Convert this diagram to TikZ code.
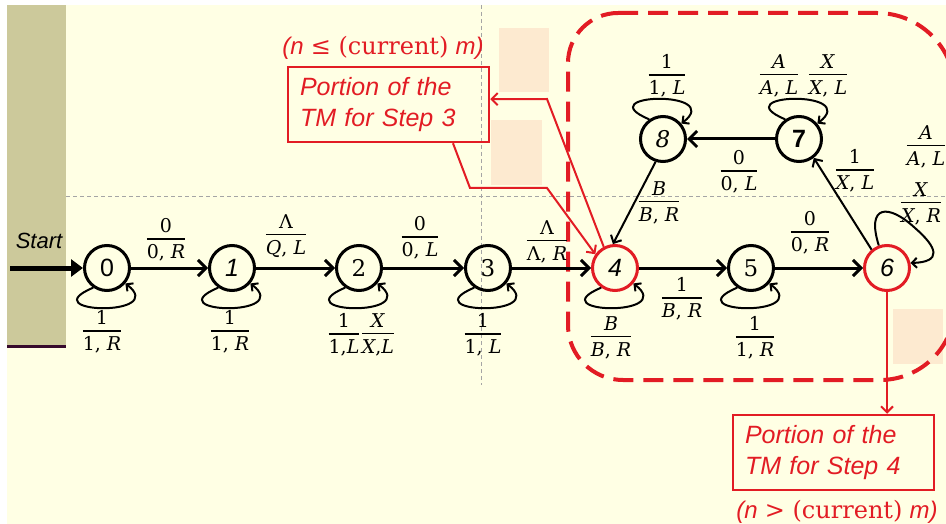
\documentclass[tikz,border=0pt]{standalone}
\usepackage{fix-cm}
\usepackage{amsmath}
\usepackage{fontspec}
\setsansfont{Liberation Sans}
\newfontfamily\ff{DejaVu Serif}
\usetikzlibrary{arrows.meta}
\definecolor{bgy}{RGB}{255,255,228}
\definecolor{olivestrip}{RGB}{204,201,155}
\definecolor{darkp}{RGB}{55,10,45}
\definecolor{peach}{RGB}{253,234,208}
\definecolor{tmred}{RGB}{226,28,36}
\definecolor{guide}{RGB}{165,165,165}
\newcommand{\tfr}[2]{\ensuremath{\genfrac{}{}{1.4pt}{0}{\raisebox{-2pt}{\ff #1}}{\raisebox{-2pt}{\ff #2}}}}
\newcommand{\vi}[1]{\textit{#1}}
\begin{document}
\begin{tikzpicture}[x=1pt,y=-1pt,
  st/.style={circle,draw=black,line width=3pt,minimum size=45pt,inner sep=0pt,font=\fontsize{25}{25}\selectfont},
  redst/.style={st,draw=tmred},
  serifnum/.style={font=\fontsize{23}{23}\selectfont\ff},
  tr/.style={line width=3pt,-{Straight Barb[length=8pt,width=16pt]}},
  thintr/.style={line width=2pt,-{Straight Barb[length=6pt,width=12pt]}},
  lp/.style={line width=2pt,-{Straight Barb[length=5pt,width=10pt]}},
  lab/.style={inner sep=0pt,font=\fontsize{19}{23}\selectfont},
  redline/.style={draw=tmred,line width=2pt,-{Straight Barb[length=6pt,width=12pt]}},
  redbox/.style={draw=tmred,line width=2.5pt,text=tmred,minimum width=201pt,minimum height=75pt,align=left,text width=177pt,inner xsep=12pt,font=\fontsize{25}{31}\selectfont\sffamily\itshape},
  redtxt/.style={inner sep=0pt,text=tmred,font=\fontsize{24}{24}\selectfont},
  reddash/.style={draw=tmred,line width=4pt,dash pattern=on 20pt off 10pt},
  guideline/.style={draw=guide,line width=0.8pt,dash pattern=on 4pt off 3pt}
]
\useasboundingbox (0,0) rectangle (946,524);
% background
\fill[white] (0,0) rectangle (946,524);
\fill[bgy] (7,5) rectangle (946,524);
\fill[olivestrip] (7,5) rectangle (66,346);
\fill[darkp] (7,345) rectangle (66,348);
\draw[guideline] (66,196) -- (946,196);
\draw[guideline] (481,5) -- (481,385);
\fill[peach] (499,28) rectangle (549,92);
\fill[peach] (491,120) rectangle (542,185);
\fill[peach] (893,309) rectangle (943,364);
% dashed region
\draw[reddash] (618,13) -- (877,13) arc[start angle=90,end angle=0,radius=78pt]
  -- (955,305) arc[start angle=0,end angle=-90,radius=75pt]
  -- (623,380) arc[start angle=270,end angle=180,radius=55pt]
  -- (568,63) arc[start angle=180,end angle=90,radius=50pt] -- cycle;
% states
\node[st] (s0) at (107,268) {\sffamily 0};
\node[st] (s1) at (232,268) {\sffamily\itshape 1};
\node[st,serifnum] (s2) at (359,268) {2};
\node[st,serifnum] (s3) at (488,268) {3};
\node[redst] (s4) at (615,268) {\sffamily\itshape 4};
\node[st,serifnum] (s5) at (751,268) {5};
\node[redst] (s6) at (887,268) {\sffamily\itshape 6};
\node[st] (s7) at (799,139) {\sffamily\bfseries 7};
\node[st,serifnum] (s8) at (663,139) {\itshape 8};
% start
\coordinate (startc) at (10,268);
\draw[line width=5pt,-{Triangle[length=12pt,width=17pt]}] (startc) -- (s0);
\node[inner sep=0pt,font=\fontsize{22}{22}\selectfont\sffamily\itshape] (startlab) at (39,241) {Start};
% transitions
\draw[tr] (s0) -- (s1);
\draw[tr] (s1) -- (s2);
\draw[tr] (s2) -- (s3);
\draw[tr] (s3) -- (s4);
\draw[tr] (s4) -- (s5);
\draw[tr] (s5) -- (s6);
\draw[tr] (s7) -- (s8);
\draw[thintr] (s8.-108) -- (s4.95);
\draw[thintr] (s6.130) -- (s7.-52);
% loops
\foreach \s in {s0,s1,s2,s3,s4,s5}{
  \draw[lp] (\s.235) .. controls +(-62,26) and +(44,34) .. (\s.-40);
}
\foreach \s in {s7,s8}{
  \draw[lp] (\s.125) .. controls +(-62,-26) and +(44,-34) .. (\s.40);
}
\draw[lp] (s6.110) .. controls (866,205) and (888,203) .. (915,228) .. controls (938,248) and (942,262) .. (s6.12);
% labels
\node[lab] (l01) at (166,240) {\tfr{0}{0, \vi{R}}};
\node[lab] (l12) at (286,236) {\tfr{Λ}{\vi{Q}, \vi{L}}};
\node[lab] (l23) at (420,238) {\tfr{0}{0, \vi{L}}};
\node[lab] (l34) at (547,242) {\tfr{Λ}{Λ, \vi{R}}};
\node[lab] (l45) at (682,299) {\tfr{1}{\vi{B}, \vi{R}}};
\node[lab] (l56) at (810,233) {\tfr{0}{0, \vi{R}}};
\node[lab] (l78) at (739,172) {\tfr{0}{0, \vi{L}}};
\node[lab] (l67) at (855,171) {\tfr{1}{\vi{X}, \vi{L}}};
\node[lab] (l84) at (659,203) {\tfr{\vi{B}}{\vi{B}, \vi{R}}};
\node[lab] (lp0) at (102,332) {\tfr{1}{1, \vi{R}}};
\node[lab] (lp1) at (230,332) {\tfr{1}{1, \vi{R}}};
\node[lab] (lp2a) at (344,335) {\tfr{1}{1,\vi{L}}};
\node[lab] (lp2b) at (378,335) {\tfr{\vi{X}}{\vi{X},\vi{L}}};
\node[lab] (lp3) at (483,335) {\tfr{1}{1, \vi{L}}};
\node[lab] (lp4) at (611,338) {\tfr{\vi{B}}{\vi{B}, \vi{R}}};
\node[lab] (lp5) at (755,338) {\tfr{1}{1, \vi{R}}};
\node[lab] (lp8) at (667,76) {\tfr{1}{1, \vi{L}}};
\node[lab] (lp7a) at (779,76) {\tfr{\vi{A}}{\vi{A}, \vi{L}}};
\node[lab] (lp7b) at (828,76) {\tfr{\vi{X}}{\vi{X}, \vi{L}}};
\node[lab] (lp6a) at (926,147) {\tfr{\vi{A}}{\vi{A}, \vi{L}}};
\node[lab] (lp6b) at (921,204) {\tfr{\vi{X}}{\vi{X}, \vi{R}}};
% red boxes
\node[redbox] (box3) at (388.5,104.5) {Portion of the\\TM for Step 3};
\node[redbox] (box4) at (833.5,452.5) {Portion of the\\TM for Step 4};
\node[redtxt] (cond3) at (383,48) {{\sffamily\itshape (n} {\ff ≤ (current)} {\sffamily\itshape m)}};
\node[redtxt] (cond4) at (837,512) {{\sffamily\itshape (n} {\ff > (current)} {\sffamily\itshape m)}};
\draw[redline] (box3.-31) -- (470,188) -- (547,188) -- (s4.145);
\draw[redline] (s4.118) -- (547,99) -- (box3.3);
\draw[redline] (s6.south) -- (s6.south |- box4.north);
\end{tikzpicture}
\end{document}
